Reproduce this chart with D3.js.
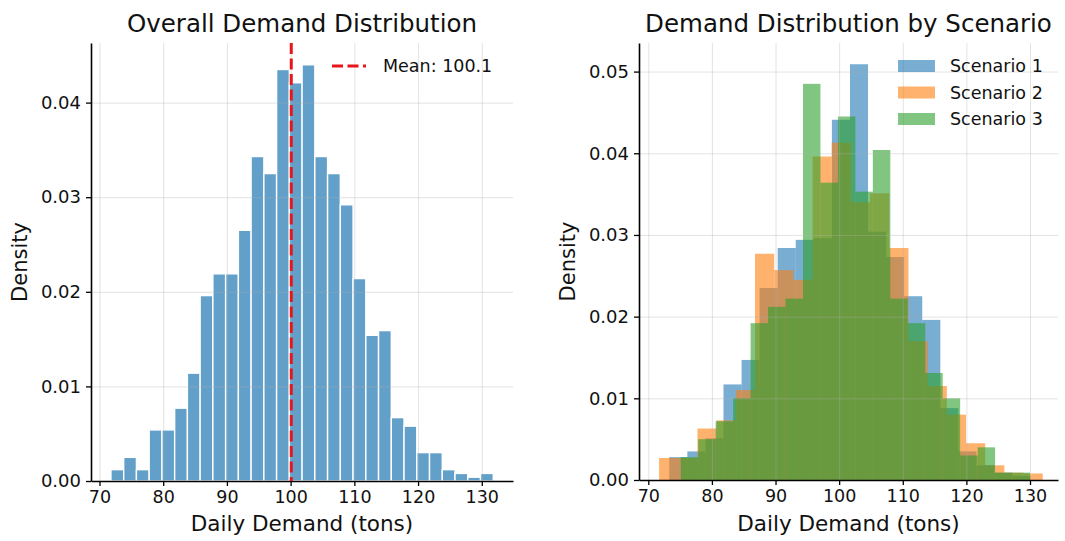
<!DOCTYPE html>
<html>
<head>
<meta charset="utf-8">
<script src="https://cdn.jsdelivr.net/npm/d3@7"></script>
<style>
  body { margin: 0; background: #fff; }
  svg text { font-family: "DejaVu Sans", sans-serif; fill: #111; }
  .grid line { stroke: #b0b0b0; stroke-opacity: 0.35; stroke-width: 1; }
  .grid path { display: none; }
  .axis path, .axis line { stroke: #000; }
  .axis path { stroke-width: 1.6; }
  .axis line { stroke-width: 1.3; }
</style>
</head>
<body>
<svg id="chart" width="1065" height="541"></svg>
<script>
// ---- data ----
var xTicks = [70, 80, 90, 100, 110, 120, 130];
var yTicksLeft = [0, 0.01, 0.02, 0.03, 0.04];
var yTicksRight = [0, 0.01, 0.02, 0.03, 0.04, 0.05];

// overall histogram: 30 bins
var overallStart = 71.8, overallWidth = 2.0;
var overallDensity = [0.0012, 0.0025, 0.0012, 0.0054, 0.0054, 0.0077, 0.0114, 0.0196, 0.0219, 0.0219,
                      0.0265, 0.0343, 0.0325, 0.0435, 0.0421, 0.0440, 0.0343, 0.0325, 0.0292, 0.0214,
                      0.0154, 0.0159, 0.0067, 0.0058, 0.0030, 0.0030, 0.0012, 0.0008, 0.0004, 0.0008];
var meanDemand = 100.1;

// per scenario: 20 bins each
var scenarioNames = ["Scenario 1", "Scenario 2", "Scenario 3"];
var scenarioColors = ["#1f77b4", "#ff7f0e", "#2ca02c"];
var s1Start = 73.3, s1Width = 2.84;
var s1Density = [0.0028, 0.0035, 0.0051, 0.0117, 0.0147, 0.0235, 0.0284, 0.0294, 0.0296, 0.0441,
                 0.0509, 0.0304, 0.0273, 0.0225, 0.0196, 0.0088, 0.0035, 0.0018, 0.0009, 0.0005];
var s2Start = 71.7, s2Width = 3.015;
var s2Density = [0.0027, 0.0027, 0.0063, 0.0073, 0.0110, 0.0277, 0.0257, 0.0245, 0.0396, 0.0413,
                 0.0340, 0.0351, 0.0284, 0.0170, 0.0115, 0.0080, 0.0045, 0.0018, 0.0009, 0.0008];
var s3Start = 75.1, s3Width = 2.745;
var s3Density = [0.0028, 0.0050, 0.0072, 0.0100, 0.0192, 0.0212, 0.0222, 0.0485, 0.0364, 0.0445,
                 0.0353, 0.0404, 0.0222, 0.0192, 0.0131, 0.0100, 0.0030, 0.0040, 0.0009, 0.0009];

var svg = d3.select("#chart");

function toBins(start, width, dens) {
    return dens.map(function (d, i) {
        return {x0: start + i * width, x1: start + (i + 1) * width, d: d};
    });
}

function makePanel(opt) {
    var x = d3.scaleLinear().domain(opt.xDomain).range([opt.left, opt.right]);
    var y = d3.scaleLinear().domain(opt.yDomain).range([opt.bottom, opt.top]);
    var g = svg.append("g");

    var marks = g.append("g");

    // grid (matplotlib draws it above the patches)
    var grid = g.append("g");
    grid.append("g")
        .attr("class", "grid")
        .attr("transform", "translate(0," + opt.bottom + ")")
        .call(d3.axisBottom(x).tickValues(xTicks).tickSize(-(opt.bottom - opt.top)).tickFormat(""));
    grid.append("g")
        .attr("class", "grid")
        .attr("transform", "translate(" + opt.left + ",0)")
        .call(d3.axisLeft(y).tickValues(opt.yTicks).tickSize(-(opt.right - opt.left)).tickFormat(""));

    // axes
    var xa = g.append("g")
        .attr("class", "axis")
        .attr("transform", "translate(0," + opt.bottom + ")")
        .call(d3.axisBottom(x).tickValues(xTicks).tickSize(5).tickSizeOuter(0).tickPadding(5));
    xa.selectAll("text").style("font-size", "17.5px");

    var ya = g.append("g")
        .attr("class", "axis")
        .attr("transform", "translate(" + opt.left + ",0)")
        .call(d3.axisLeft(y).tickValues(opt.yTicks).tickSize(5).tickSizeOuter(0).tickPadding(5)
            .tickFormat(d3.format(".2f")));
    ya.selectAll("text").style("font-size", "18px");

    // titles
    g.append("text")
        .attr("x", (opt.left + opt.right) / 2)
        .attr("y", 32)
        .attr("text-anchor", "middle")
        .style("font-size", "24.5px")
        .text(opt.title);

    g.append("text")
        .attr("x", (opt.left + opt.right) / 2)
        .attr("y", 531)
        .attr("text-anchor", "middle")
        .style("font-size", "21.5px")
        .text("Daily Demand (tons)");

    g.append("text")
        .attr("transform", "translate(" + opt.yLabelX + "," + ((opt.top + opt.bottom) / 2) + ") rotate(-90)")
        .attr("text-anchor", "middle")
        .style("font-size", "21px")
        .text("Density");

    return {x: x, y: y, g: g, marks: marks};
}

// ---- left panel ----
var p1 = makePanel({
    left: 91, right: 513, top: 43, bottom: 481,
    xDomain: [68.67, 134.9], yDomain: [0, 0.0463],
    yTicks: yTicksLeft, yLabelX: 27,
    title: "Overall Demand Distribution"
});

p1.marks.selectAll("rect")
    .data(toBins(overallStart, overallWidth, overallDensity))
    .enter()
    .append("rect")
    .attr("x", function (b) { return p1.x(b.x0); })
    .attr("width", function (b) { return p1.x(b.x1) - p1.x(b.x0); })
    .attr("y", function (b) { return p1.y(b.d); })
    .attr("height", function (b) { return p1.y(0) - p1.y(b.d); })
    .style("fill", "#1f77b4")
    .style("fill-opacity", 0.7)
    .style("stroke", "#fff")
    .style("stroke-width", 1.4);

p1.g.append("line")
    .attr("x1", p1.x(meanDemand)).attr("x2", p1.x(meanDemand))
    .attr("y1", p1.y(0.0463)).attr("y2", p1.y(0))
    .style("stroke", "#e8151b")
    .style("stroke-width", 3)
    .style("stroke-dasharray", "11,4.5");

// legend (no frame)
p1.g.append("line")
    .attr("x1", 332).attr("x2", 366).attr("y1", 66).attr("y2", 66)
    .style("stroke", "#e8151b")
    .style("stroke-width", 3)
    .style("stroke-dasharray", "11,4.5");
p1.g.append("text")
    .attr("x", 383).attr("y", 72)
    .style("font-size", "17.5px")
    .text("Mean: " + meanDemand.toFixed(1));

// ---- right panel ----
var p2 = makePanel({
    left: 639, right: 1058, top: 43, bottom: 480,
    xDomain: [68.54, 134.4], yDomain: [0, 0.0535],
    yTicks: yTicksRight, yLabelX: 575,
    title: "Demand Distribution by Scenario"
});

var scenarios = [
    toBins(s1Start, s1Width, s1Density),
    toBins(s2Start, s2Width, s2Density),
    toBins(s3Start, s3Width, s3Density)
];

scenarios.forEach(function (bins, k) {
    p2.marks.append("g")
        .selectAll("rect")
        .data(bins)
        .enter()
        .append("rect")
        .attr("x", function (b) { return p2.x(b.x0); })
        .attr("width", function (b) { return p2.x(b.x1) - p2.x(b.x0); })
        .attr("y", function (b) { return p2.y(b.d); })
        .attr("height", function (b) { return p2.y(0) - p2.y(b.d); })
        .style("fill", scenarioColors[k])
        .style("fill-opacity", 0.6);
});

var leg = p2.g.append("g");
scenarioNames.forEach(function (name, k) {
    leg.append("rect")
        .attr("x", 898).attr("y", 60 + k * 26.5)
        .attr("width", 37).attr("height", 12)
        .style("fill", scenarioColors[k])
        .style("fill-opacity", 0.6);
    leg.append("text")
        .attr("x", 950).attr("y", 72 + k * 26.5)
        .style("font-size", "17.5px")
        .text(name);
});
</script>
</body>
</html>
